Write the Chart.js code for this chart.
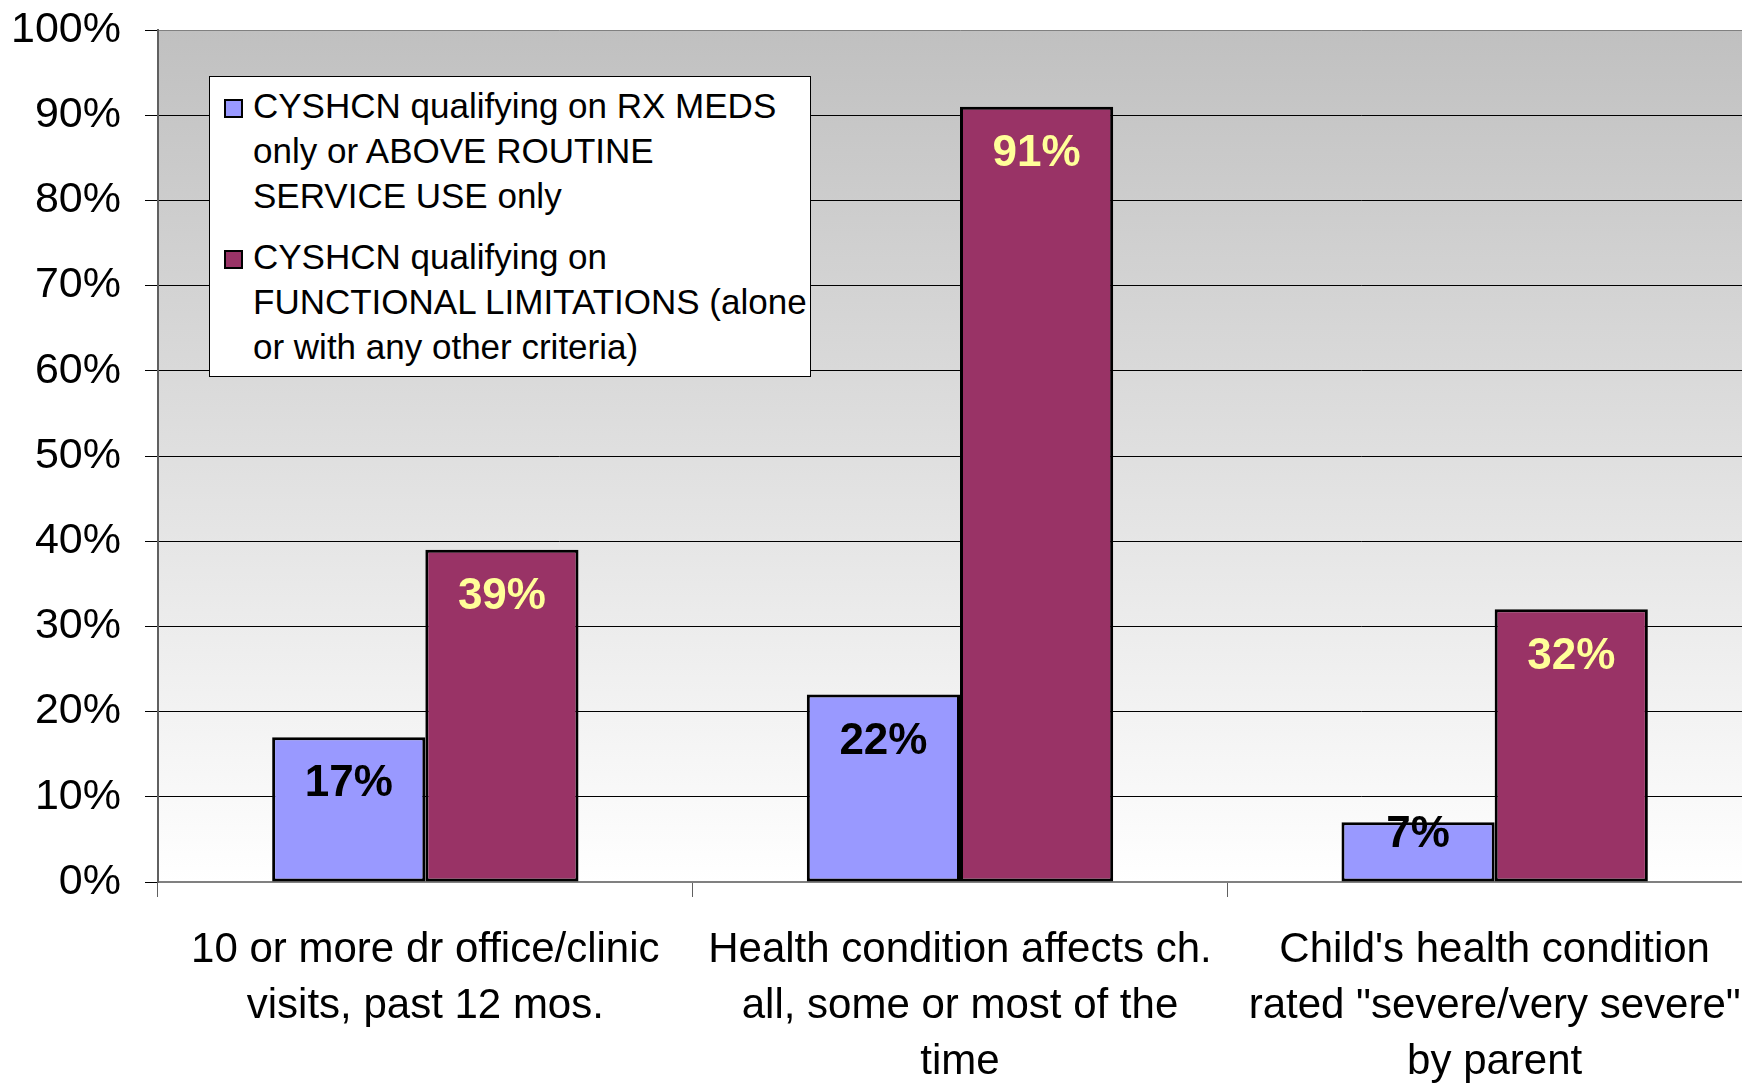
<!DOCTYPE html>
<html>
<head>
<meta charset="utf-8">
<script src="https://cdn.jsdelivr.net/npm/chart.js@4/dist/chart.umd.min.js"></script>
<style>
  html, body { margin:0; padding:0; background:#fff; overflow:hidden; }
  #wrap { position:relative; width:1742px; height:1084px; overflow:hidden; }
  #chart { position:absolute; left:0; top:0; }
  #legend {
    position:absolute; left:209px; top:76px; width:600px; height:299px;
    background:#fff; border:1px solid #000;
    font-family:"Liberation Sans", Arial, sans-serif; font-size:35px; line-height:45px; color:#000;
  }
  .item { position:absolute; left:43px; }
  .item .box { position:absolute; left:-29px; top:16px; width:15px; height:15px; border:2px solid #000; }
  .item div.line { white-space:nowrap; }
</style>
</head>
<body>
<div id="wrap">
  <canvas id="chart" width="1762" height="1084"></canvas>
  <div id="legend"></div>
</div>
<script>
const categories = [
  ['10 or more dr office/clinic', 'visits, past 12 mos.'],
  ['Health condition affects ch.', 'all, some or most of the', 'time'],
  ["Child's health condition", 'rated "severe/very severe"', 'by parent']
];
const rxMedsOnly = [17, 22, 7];
const functionalLimits = [39, 91, 32];
const rxLegend = ['CYSHCN qualifying on RX MEDS', 'only or ABOVE ROUTINE', 'SERVICE USE only'];
const flLegend = ['CYSHCN qualifying on', 'FUNCTIONAL LIMITATIONS (alone', 'or with any other criteria)'];
const yTickValues = [0, 10, 20, 30, 40, 50, 60, 70, 80, 90, 100];

const FONT = '"Liberation Sans", Arial, sans-serif';

// grey-to-white fill behind the plot
const plotBackground = {
  id: 'plotBackground',
  beforeDraw(chart){
    const {ctx, chartArea:a} = chart;
    const g = ctx.createLinearGradient(0, a.top, 0, a.bottom);
    g.addColorStop(0, '#c0c0c0');
    g.addColorStop(1, '#ffffff');
    ctx.save();
    ctx.fillStyle = g;
    ctx.fillRect(a.left, a.top, a.right - a.left, a.bottom - a.top);
    ctx.restore();
  }
};

// value labels just inside the bar ends
const barValues = {
  id: 'barValues',
  afterDatasetsDraw(chart){
    const ctx = chart.ctx;
    ctx.save();
    ctx.font = 'bold 44px ' + FONT;
    ctx.textAlign = 'center';
    ctx.textBaseline = 'middle';
    chart.data.datasets.forEach((ds, i) => {
      chart.getDatasetMeta(i).data.forEach((bar, j) => {
        const h = bar.base - bar.y;
        const off = Math.min(47, h - 47);
        ctx.fillStyle = ds.valueColor;
        ctx.fillText(ds.data[j] + '%', bar.x, bar.y + off);
      });
    });
    ctx.restore();
  }
};

const chart = new Chart(document.getElementById('chart'), {
  type: 'bar',
  data: {
    labels: categories,
    datasets: [
      { label: rxLegend.join(' '), lines: rxLegend, data: rxMedsOnly, backgroundColor: '#9999ff',
        borderColor: '#000', borderWidth: 3, borderSkipped: false, valueColor: '#000000' },
      { label: flLegend.join(' '), lines: flLegend, data: functionalLimits, backgroundColor: '#993366',
        borderColor: '#000', borderWidth: 3, borderSkipped: false, valueColor: '#ffff99' }
    ]
  },
  options: {
    responsive: false,
    animation: false,
    layout: { padding: { top: 30, left: 0, right: 0, bottom: 0 } },
    categoryPercentage: 0.573,
    barPercentage: 1.0,
    plugins: { legend: { display: false }, tooltip: { enabled: false } },
    scales: {
      x: {
        grid: { offset: true, drawOnChartArea: false, drawTicks: true, tickLength: 15, color: '#606060' },
        border: { color: '#808080', width: 2 },
        ticks: { color: '#000', padding: 25, maxRotation: 0, autoSkip: false,
                 font: { family: FONT, size: 42, lineHeight: 56/42 } },
        afterFit(s){ s.height = 202; s.paddingLeft = 0; s.paddingRight = 0; }
      },
      y: {
        min: 0, max: 100,
        afterBuildTicks(s){ s.ticks = yTickValues.map(v => ({ value: v })); },
        grid: {
          color: c => (c.tick && (c.tick.value === 100 || c.tick.value === 0)) ? '#808080' : '#000',
          tickColor: '#000', tickLength: 13, lineWidth: 1
        },
        border: { color: '#606060', width: 2 },
        ticks: { color: '#000', padding: 24, callback: v => v + '%',
                 font: { family: FONT, size: 43 } },
        afterFit(s){ s.width = 158; s.paddingTop = 0; s.paddingBottom = 0; }
      }
    }
  },
  plugins: [plotBackground, barValues]
});

// legend built from the datasets
const legend = document.getElementById('legend');
const tops = [6, 157];
chart.data.datasets.forEach((ds, i) => {
  const item = document.createElement('div');
  item.className = 'item';
  item.style.top = tops[i] + 'px';
  const box = document.createElement('div');
  box.className = 'box';
  box.style.background = ds.backgroundColor;
  item.appendChild(box);
  ds.lines.forEach(t => {
    const l = document.createElement('div');
    l.className = 'line';
    l.textContent = t;
    item.appendChild(l);
  });
  legend.appendChild(item);
});
</script>
</body>
</html>
